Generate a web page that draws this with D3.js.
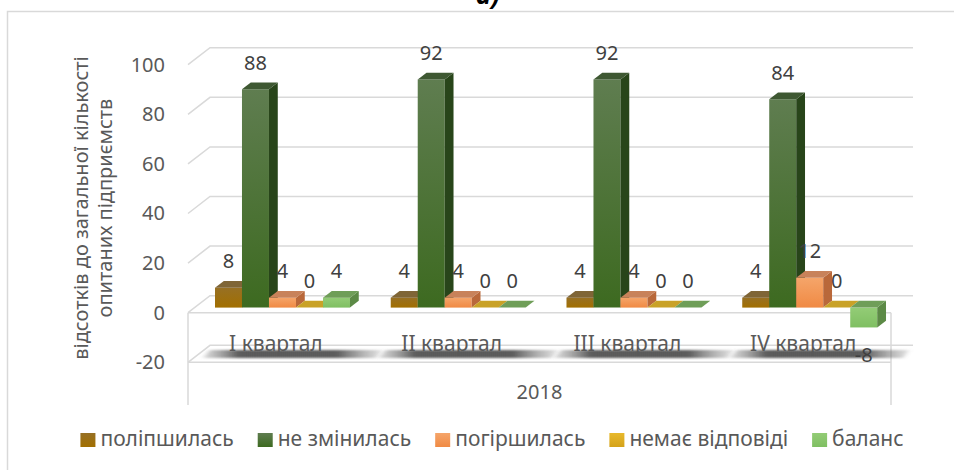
<!DOCTYPE html>
<html>
<head>
<meta charset="utf-8">
<script src="https://cdn.jsdelivr.net/npm/d3@7/dist/d3.min.js"></script>
<style>
    html, body { margin: 0; padding: 0; background: #fff; }
    #chart { width: 954px; height: 470px; }
    text { font-family: "Noto Sans", "Open Sans", sans-serif; }
</style>
</head>
<body>
<div id="chart"></div>
<script>
// 3D clustered columns, survey shares by quarter (2018).
var categories = ['I квартал', 'II квартал', 'III квартал', 'IV квартал'];
var seriesNames = ['поліпшилась', 'не змінилась', 'погіршилась', 'немає відповіді', 'баланс'];
var improved = [8, 4, 4, 4];
var unchanged = [88, 92, 92, 84];
var worsened = [4, 4, 4, 12];
var noAnswer = [0, 0, 0, 0];
var balance = [4, 0, 0, -8];
var yTicks = [-20, 0, 20, 40, 60, 80, 100];
var groupLabel = '2018';
var yTitle = ['відсотків до загальної кількості', 'опитаних підприємств'];

(function () {
    var W = 954, H = 470;
    var left = 188, right = 891;
    var DX = 22, DY = 17;          // depth of the floor in px
    var barD0 = 0.3, barD1 = 0.7;  // bars sit in the middle of the depth
    var gridCol = '#D9D9D9';

    var series = [improved, unchanged, worsened, noAnswer, balance];

    // face colours per series: front gradient top/bottom, side, top
    var faces = [
        { f0: '#977024', f1: '#A26F00', side: '#7A5608', top: '#7F6536' },
        { f0: '#5F7D50', f1: '#3D6A20', side: '#28451A', top: '#3E5832' },
        { f0: '#F5A56A', f1: '#F08A44', side: '#B9683A', top: '#C8825A' },
        { f0: '#E8B92C', f1: '#D4A21A', side: '#A98118', top: '#C9A227' },
        { f0: '#93CC76', f1: '#7FBF62', side: '#5C8A46', top: '#6F9E58' }
    ];

    var svg = d3.select('#chart').append('svg')
        .attr('width', W).attr('height', H);
    var defs = svg.append('defs');

    faces.forEach(function (c, i) {
        var g = defs.append('linearGradient').attr('id', 'gf' + i)
            .attr('x1', 0).attr('y1', 0).attr('x2', 0).attr('y2', 1);
        g.append('stop').attr('offset', '0%').attr('stop-color', c.f0);
        g.append('stop').attr('offset', '100%').attr('stop-color', c.f1);
    });
    var blur = defs.append('filter').attr('id', 'shblur')
        .attr('x', '-10%').attr('y', '-200%').attr('width', '120%').attr('height', '500%');
    blur.append('feGaussianBlur').attr('stdDeviation', '2.5 1.2');
    var shg = defs.append('linearGradient').attr('id', 'shgrad');
    shg.append('stop').attr('offset', '0%').attr('stop-color', '#888').attr('stop-opacity', 0.3);
    shg.append('stop').attr('offset', '20%').attr('stop-color', '#4a4a4a').attr('stop-opacity', 0.9);
    shg.append('stop').attr('offset', '75%').attr('stop-color', '#4a4a4a').attr('stop-opacity', 0.9);
    shg.append('stop').attr('offset', '100%').attr('stop-color', '#888').attr('stop-opacity', 0.25);

    // outer chart border
    svg.append('rect')
        .attr('x', 7.5).attr('y', 11.5).attr('width', 1000).attr('height', 600)
        .attr('fill', 'none').attr('stroke', gridCol).attr('stroke-width', 1.5);

    // figure caption, mostly cropped at the top
    svg.append('text')
        .attr('x', 476).attr('y', 4)
        .attr('font-family', '"Liberation Serif", serif')
        .attr('font-style', 'italic').attr('font-weight', 'bold')
        .attr('font-size', 26).attr('fill', '#000')
        .text('а)');

    var y = d3.scaleLinear().domain([-20, 100]).range([362.3, 64.7]);
    var x = d3.scaleBand().domain(categories).range([left, right]).padding(0);
    var xs = d3.scaleBand().domain(seriesNames).range([0, x.bandwidth()])
        .paddingInner(0).paddingOuter(0.755);

    function P(px, py, d) { return [px + DX * d, py - DY * d]; }
    function poly(pts) { return 'M' + pts.map(function (p) { return p.join(','); }).join('L') + 'Z'; }

    var grid = svg.append('g')
        .attr('stroke', gridCol).attr('stroke-width', 1.5).attr('fill', 'none');
    yTicks.forEach(function (t) {
        var a = P(left, y(t), 0), b = P(left, y(t), 1), c = P(right, y(t), 1);
        grid.append('path').attr('d', 'M' + a + 'L' + b + 'L' + c);
        if (t <= 0) {
            grid.append('line')
                .attr('x1', left).attr('x2', right)
                .attr('y1', y(t)).attr('y2', y(t));
        }
    });
    [left, right].forEach(function (px) {
        grid.append('line')
            .attr('x1', px).attr('x2', px)
            .attr('y1', y(0)).attr('y2', 405);
    });

    // y tick labels
    svg.append('g').selectAll('text').data(yTicks).join('text')
        .attr('x', 165).attr('y', function (d) { return y(d) + 1.5; })
        .attr('text-anchor', 'end').attr('dominant-baseline', 'middle')
        .attr('font-size', 20).attr('fill', '#595959')
        .text(function (d) { return d; });

    // y title (two lines, rotated)
    yTitle.forEach(function (s, i) {
        svg.append('text')
            .attr('transform', 'translate(' + (88 + i * 24) + ',208) rotate(-90)')
            .attr('text-anchor', 'middle')
            .attr('font-size', 20).attr('fill', '#595959')
            .text(s);
    });

    // category labels with their soft shadow on the floor
    var cats = svg.append('g');
    categories.forEach(function (c) {
        var L = x(c), R = x(c) + x.bandwidth();
        cats.append('path')
            .attr('d', poly([[L + 15, 358], [R + 12, 358], [R + 18, 350], [L + 22, 350]]))
            .attr('fill', 'url(#shgrad)')
            .attr('filter', 'url(#shblur)');
        cats.append('text')
            .attr('x', L + x.bandwidth() / 2).attr('y', 351)
            .attr('text-anchor', 'middle')
            .attr('font-size', 21).attr('fill', '#595959')
            .text(c);
    });
    svg.append('text')
        .attr('x', (left + right) / 2).attr('y', 399)
        .attr('text-anchor', 'middle')
        .attr('font-size', 20).attr('fill', '#595959')
        .text(groupLabel);

    // bars, left to right so each front face covers the neighbour's side
    var bars = svg.append('g');
    var labels = svg.append('g');
    var bw = xs.bandwidth();
    categories.forEach(function (c, ci) {
        seriesNames.forEach(function (s, si) {
            var v = series[si][ci];
            var col = faces[si];
            var x0 = x(c) + xs(s);
            var yTop = y(Math.max(v, 0)), yBot = y(Math.min(v, 0));
            var fl = P(x0, yTop, barD0), fr = P(x0 + bw, yTop, barD0);
            var bl = P(x0, yTop, barD1), br = P(x0 + bw, yTop, barD1);
            var frb = P(x0 + bw, yBot, barD0), brb = P(x0 + bw, yBot, barD1);
            var flb = P(x0, yBot, barD0);
            if (yBot - yTop > 0.5) {
                bars.append('path').attr('d', poly([fl, fr, frb, flb]))
                    .attr('fill', 'url(#gf' + si + ')');
                bars.append('path').attr('d', poly([fr, br, brb, frb]))
                    .attr('fill', col.side);
            }
            bars.append('path').attr('d', poly([fl, fr, br, bl]))
                .attr('fill', col.top);

            var ly = v < 0 ? flb[1] + 29 : fl[1] - 25;
            labels.append('text')
                .attr('x', fl[0] + bw / 2).attr('y', ly)
                .attr('text-anchor', 'middle').attr('dominant-baseline', 'middle')
                .attr('font-size', 20).attr('fill', '#404040')
                .text(v);
        });
    });

    // legend
    var leg = svg.append('g');
    var gap = 24;
    var cx;
    var items = seriesNames.map(function (s, i) {
        var g = leg.append('g');
        g.append('rect').attr('x', 0).attr('y', -7).attr('width', 15).attr('height', 14)
            .attr('fill', 'url(#gf' + i + ')');
        var t = g.append('text').attr('x', 20).attr('y', 0)
            .attr('dominant-baseline', 'middle')
            .attr('font-size', 21).attr('fill', '#595959').text(s);
        return { g: g, w: 20 + t.node().getComputedTextLength() };
    });
    var total = d3.sum(items, function (d) { return d.w; }) + gap * (items.length - 1);
    cx = 492 - total / 2;
    items.forEach(function (it) {
        it.g.attr('transform', 'translate(' + cx + ',440)');
        cx += it.w + gap;
    });
})();
</script>
</body>
</html>
